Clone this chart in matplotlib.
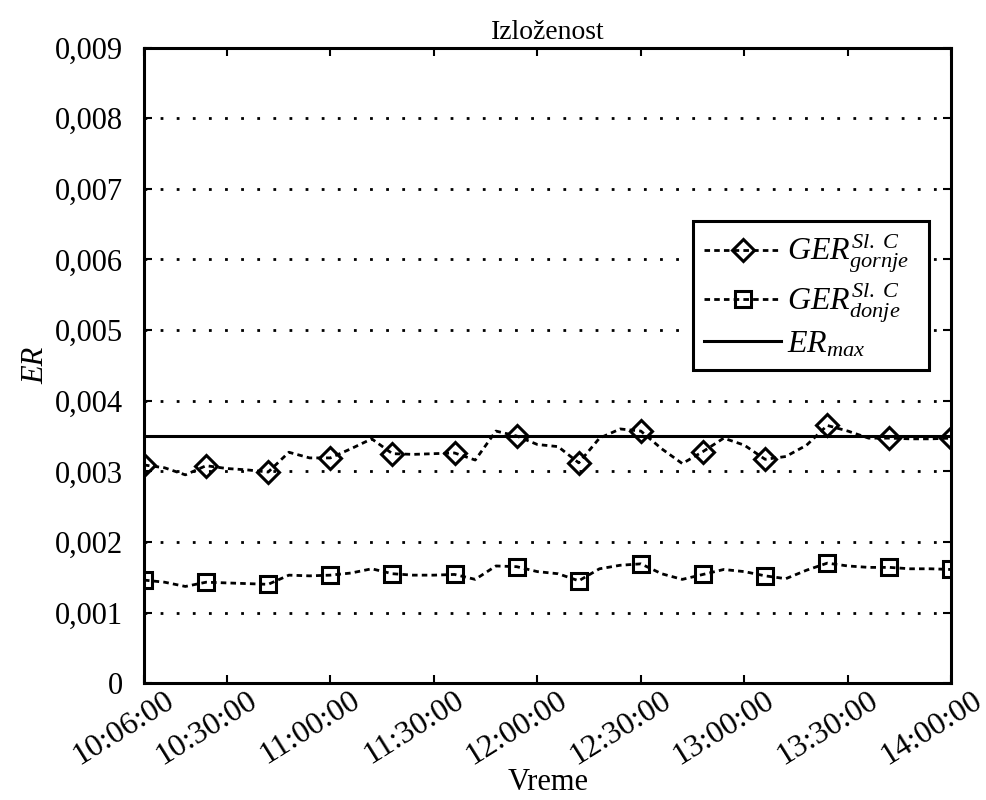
import matplotlib

matplotlib.use("Agg")
import matplotlib.pyplot as plt  # noqa: E402
import matplotlib.transforms as mtransforms  # noqa: E402
import numpy as np  # noqa: E402
import pandas as pd  # noqa: E402

plt.rcParams["font.family"] = ["Liberation Serif", "DejaVu Serif"]
plt.rcParams["mathtext.fontset"] = "custom"
plt.rcParams["mathtext.rm"] = "Liberation Serif"
plt.rcParams["mathtext.it"] = "Liberation Serif:italic"
plt.rcParams["mathtext.bf"] = "Liberation Serif:bold"

# measurement times, every 6 minutes from 10:06 to 14:00
times = pd.date_range("10:06", "14:00", freq="6min")
t_min = times.hour * 60 + times.minute

ger_gornje = np.array([
    3.09, 3.05, 2.95, 3.08, 3.04, 3.02, 2.99, 3.27, 3.19, 3.19,
    3.32, 3.46, 3.25, 3.24, 3.25, 3.26, 3.16, 3.57, 3.50, 3.38,
    3.35, 3.12, 3.47, 3.60, 3.57, 3.32, 3.11, 3.28, 3.47, 3.37,
    3.17, 3.21, 3.37, 3.65, 3.57, 3.47, 3.47, 3.46, 3.46, 3.47,
]) * 1e-3
ger_donje = np.array([
    1.46, 1.43, 1.37, 1.43, 1.42, 1.41, 1.40, 1.53, 1.52, 1.53,
    1.56, 1.62, 1.55, 1.53, 1.53, 1.54, 1.47, 1.66, 1.65, 1.58,
    1.55, 1.45, 1.62, 1.67, 1.69, 1.55, 1.47, 1.54, 1.61, 1.58,
    1.52, 1.48, 1.60, 1.70, 1.66, 1.64, 1.64, 1.62, 1.62, 1.61,
]) * 1e-3
er_max = 0.0035

xtick_labels = ["10:06:00", "10:30:00", "11:00:00", "11:30:00", "12:00:00",
                "12:30:00", "13:00:00", "13:30:00", "14:00:00"]
xtick_pos = [int(s[:2]) * 60 + int(s[3:5]) for s in xtick_labels]
ytick_pos = [0, 0.001, 0.002, 0.003, 0.004, 0.005, 0.006, 0.007, 0.008, 0.009]
ytick_labels = ["0", "0,001", "0,002", "0,003", "0,004", "0,005",
                "0,006", "0,007", "0,008", "0,009"]

fig = plt.figure(figsize=(9.86, 8.0), dpi=100)
ax = fig.add_axes([0.146, 0.146, 0.819, 0.7945])

dash = (0, (2.0, 1.5))
ax.plot(t_min, ger_gornje, color="black", lw=2, linestyle=dash,
        marker="D", markevery=3, ms=11, mfc="none", mec="black", mew=2.2,
        label=r"$GER^{Sl.\ C}_{gornje}$")
ax.plot(t_min, ger_donje, color="black", lw=2, linestyle=dash,
        marker="s", markevery=3, ms=12, mfc="none", mec="black", mew=2.2,
        label=r"$GER^{Sl.\ C}_{donje}$")
ax.axhline(er_max, color="black", lw=2.2, label=r"$ER_{max}$")

ax.set_xlim(xtick_pos[0], xtick_pos[-1])
ax.set_ylim(0, 0.009)
ax.set_yticks(ytick_pos)
ax.set_yticklabels(ytick_labels, fontsize=22)
ax.set_xticks(xtick_pos)
ax.set_xticklabels([])

# rotated time labels, shifted right of their ticks as in the original
offset = mtransforms.ScaledTranslation(20 / 100, -3 / 100, fig.dpi_scale_trans)
for pos, lab in zip(xtick_pos, xtick_labels):
    ax.text(pos, 0, lab, fontsize=23, rotation=32, rotation_mode="anchor",
            ha="right", va="top",
            transform=ax.get_xaxis_transform() + offset)

ax.tick_params(direction="in", length=6, width=1.5, top=True, right=True)
ax.tick_params(axis="y", pad=15)
for sp in ax.spines.values():
    sp.set_linewidth(2.2)

ax.yaxis.grid(True, color="black", lw=2, linestyle=(0, (1, 4.8)))
ax.set_axisbelow(True)

ax.set_title("Izloženost", fontsize=20, pad=6)
ax.set_xlabel("Vreme", fontsize=22, va="top")
ax.xaxis.set_label_coords(0.5, -0.134)
ax.set_ylabel("ER", fontsize=22, style="italic", labelpad=3)

leg = ax.legend(loc="upper left", bbox_to_anchor=(0.680, 0.727, 0.292, 0.0),
                mode="expand", borderaxespad=0, fontsize=23,
                handlelength=2.4, handletextpad=0.2, labelspacing=0.15,
                fancybox=False, framealpha=1, edgecolor="black",
                borderpad=0.35)
leg.get_frame().set_linewidth(2.2)

fig.savefig("out.png", dpi=100, facecolor="white")
